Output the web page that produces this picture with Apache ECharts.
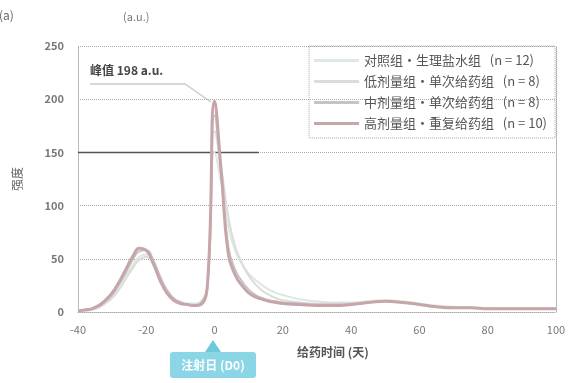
<!DOCTYPE html>
<html>
<head>
<meta charset="utf-8">
<script src="https://cdn.jsdelivr.net/npm/echarts@6/dist/echarts.min.js"></script>
<style>
  html, body { margin: 0; padding: 0; background: #fff; }
  #chart { width: 579px; height: 383px; }
</style>
</head>
<body>
<div id="chart"></div>
<script>
// x 轴（天）
const days = [-40, -38, -36, -34, -32, -30, -28, -26, -24, -22, -20, -18, -16, -14, -12, -10, -8, -6, -4, -2,
  0, 2, 4, 6, 8, 10, 12, 14, 16, 18, 20, 25, 30, 35, 40, 45, 50, 55, 60, 65, 70, 75, 80, 85, 90, 95, 100]
// 各组数据
const controlData = [1, 2, 3, 5, 9, 15, 24, 34, 44, 52, 54, 46, 32, 20, 13, 10, 8, 8, 10, 28,
  150, 120, 80, 58, 45, 36, 30, 25, 21, 18, 16, 12, 10, 9, 9, 10, 11, 10, 8, 6, 5, 4, 4, 3, 3, 3, 3]
const lowData = [1, 1, 2, 4, 8, 13, 21, 31, 41, 49, 52, 45, 32, 20, 12, 9, 7, 7, 9, 25,
  170, 135, 90, 62, 46, 34, 26, 20, 16, 13, 11, 9, 8, 8, 8, 9, 10, 9, 7, 5, 4, 4, 3, 3, 3, 3, 3]
const midData = [1, 2, 3, 5, 10, 16, 26, 37, 49, 57, 58, 49, 34, 21, 13, 9, 7, 6, 8, 28,
  185, 125, 62, 40, 29, 21, 16, 13, 11, 10, 9, 8, 7, 7, 7, 9, 10, 9, 7, 5, 4, 4, 3, 3, 3, 3, 3]
const highData = [1, 2, 3, 6, 11, 18, 28, 40, 52, 60, 58, 46, 30, 18, 11, 8, 7, 6, 7, 30,
  198, 130, 55, 35, 25, 18, 14, 12, 10, 9, 8, 7, 6, 6, 7, 9, 10, 9, 7, 5, 4, 4, 3, 3, 3, 3, 3]
// 阈值线（起止天数与数值）
const thresholdDays = [-40, 13]
const thresholdValue = 150
const seriesNames = ['对照组·生理盐水组   (n = 12)', '低剂量组·单次给药组   (n = 8)', '中剂量组·单次给药组   (n = 8)', '高剂量组·重复给药组   (n = 10)']
const seriesColors = ['#dde8e1', '#dcdcdc', '#c4c4c4', '#c6a6a8']

const chart = echarts.init(document.getElementById('chart'))

const toPairs = (arr) => days.map((d, i) => [d, arr[i]])
const allData = [controlData, lowData, midData, highData]

const series = allData.map((arr, i) => ({
  name: seriesNames[i],
  type: 'line',
  data: toPairs(arr),
  smooth: true,
  showSymbol: false,
  lineStyle: { color: seriesColors[i], width: i === 3 ? 3 : 2 },
  itemStyle: { color: seriesColors[i] },
  z: i + 2
}))
series.push({
  name: '阈值',
  type: 'line',
  data: thresholdDays.map((d) => [d, thresholdValue]),
  showSymbol: false,
  silent: true,
  lineStyle: { color: '#555', width: 1.5 },
  z: 1
})

const option = {
  animation: false,
  textStyle: { fontFamily: 'Noto Sans CJK SC' },
  title: [
    { text: '(a)', left: -6, top: 4, textStyle: { fontSize: 12, color: '#666', fontWeight: 'normal' } },
    { text: '(a.u.)', left: 118, top: 6, textStyle: { fontSize: 11, color: '#777', fontWeight: 'normal' } }
  ],
  legend: {
    orient: 'vertical',
    right: 24,
    top: 46,
    itemWidth: 45,
    itemHeight: 3,
    itemGap: 8,
    padding: [8, 8, 8, 5],
    borderColor: '#aaa',
    borderWidth: 1,
    borderType: 'dotted',
    icon: 'rect',
    textStyle: { color: '#555', fontSize: 13 },
    data: seriesNames
  },
  grid: { left: 78, right: 23, top: 46, bottom: 71 },
  xAxis: {
    type: 'value',
    min: -40,
    max: 100,
    interval: 20,
    name: '给药时间 (天)',
    nameLocation: 'middle',
    nameGap: 34,
    nameTextStyle: { color: '#555', fontSize: 12, fontWeight: 'bold', padding: [0, 0, 0, 32] },
    axisLine: { onZero: false, lineStyle: { color: '#aaa', type: 'dotted' } },
    axisTick: { show: false },
    axisLabel: { color: '#777', fontSize: 11, margin: 12 },
    splitLine: { show: false }
  },
  yAxis: [
    {
      type: 'value',
      min: 0,
      max: 250,
      interval: 50,
      name: '强度',
      nameLocation: 'middle',
      nameGap: 55,
      nameRotate: 90,
      nameTextStyle: { color: '#666', fontSize: 12 },
      axisLine: { show: true, onZero: false, lineStyle: { color: '#aaa', type: 'dotted' } },
      axisTick: { show: false },
      axisLabel: { color: '#777', fontSize: 11, margin: 14, fontWeight: 'bold' },
      splitLine: { lineStyle: { color: '#aaa', type: 'dotted' } }
    },
    {
      // 右侧边框
      type: 'value',
      position: 'right',
      min: 0,
      max: 250,
      interval: 50,
      axisLine: { show: true, onZero: false, lineStyle: { color: '#aaa', type: 'dotted' } },
      axisTick: { show: false },
      axisLabel: { show: false },
      splitLine: { show: false }
    }
  ],
  graphic: [
    {
      type: 'text',
      x: 90,
      y: 70,
      style: {
        text: '峰值 198 a.u.',
        fill: '#444',
        font: 'bold 12px "Noto Sans CJK SC"',
        verticalAlign: 'middle'
      }
    },
    {
      type: 'polyline',
      shape: { points: [[90, 84], [185, 84], [211, 102]] },
      style: { stroke: '#c8cccc', lineWidth: 1.5, fill: null }
    },
    {
      type: 'polygon',
      shape: { points: [[213, 340], [205, 352], [221, 352]] },
      style: { fill: '#6cc9dc' }
    },
    {
      type: 'rect',
      shape: { x: 170, y: 352, width: 86, height: 26, r: 3 },
      style: { fill: '#8ad6e6' }
    },
    {
      type: 'text',
      x: 213,
      y: 365,
      style: {
        text: '注射日 (D0)',
        fill: '#fff',
        font: 'bold 12px "Noto Sans CJK SC"',
        align: 'center',
        verticalAlign: 'middle'
      }
    }
  ],
  series
}

chart.setOption(option)
</script>
</body>
</html>
